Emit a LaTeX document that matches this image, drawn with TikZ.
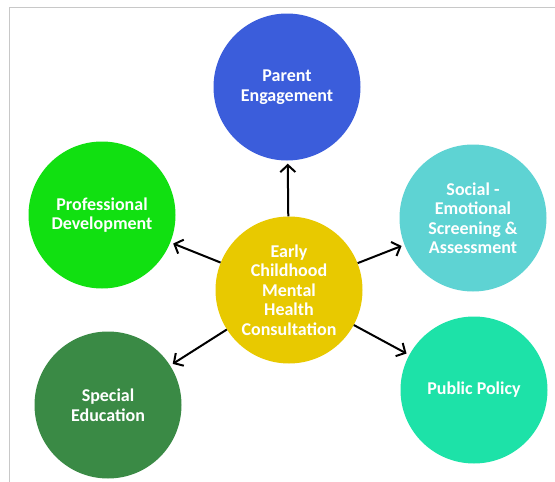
\documentclass[tikz,border=0pt]{standalone}
\usepackage{fontspec}
\setmainfont{Carlito}
\usepackage{xcolor}
\usetikzlibrary{arrows.meta,positioning}

\definecolor{parentblue}{RGB}{59,93,219}
\definecolor{profgreen}{RGB}{17,224,17}
\definecolor{socialteal}{RGB}{94,211,211}
\definecolor{centeryellow}{RGB}{232,201,0}
\definecolor{specialgreen}{RGB}{58,138,69}
\definecolor{policygreen}{RGB}{29,226,168}
\definecolor{framegray}{RGB}{200,200,200}

\begin{document}
\begin{tikzpicture}[
    x=1pt, y=-1pt,
    bubble/.style={circle, minimum size=147pt, inner sep=0, align=center,
        text=white, font=\fontsize{18}{19.5}\selectfont\bfseries},
    link/.style={draw, line width=2pt, -{Straight Barb[length=7pt,width=15pt]},
        shorten >=3pt}]
\useasboundingbox (0,0) rectangle (555,482);
\draw[framegray, line width=1pt] (555,7) -- (9,7) -- (9,482);

\node[bubble, fill=centeryellow] (ecmhc) at (289,290)
    {Early\\Childhood\\Mental\\Health\\Consultation};
\node[bubble, fill=parentblue] (parent) at (287,87) {Parent\\Engagement};
\node[bubble, fill=profgreen] (profdev) at (102,215) {Professional\\Development};
\node[bubble, fill=socialteal] (social) at (473,218) {Social -\\Emotional\\Screening \&\\Assessment};
\node[bubble, fill=specialgreen] (special) at (108,405) {Special\\Education};
\node[bubble, fill=policygreen] (policy) at (474,390) {Public Policy};

\path[link] (ecmhc) -- (parent);
\path[link] (ecmhc) -- (profdev);
\path[link] (ecmhc) -- (social);
\path[link] (ecmhc) -- (special);
\path[link] (ecmhc) -- (policy);

\end{tikzpicture}
\end{document}
